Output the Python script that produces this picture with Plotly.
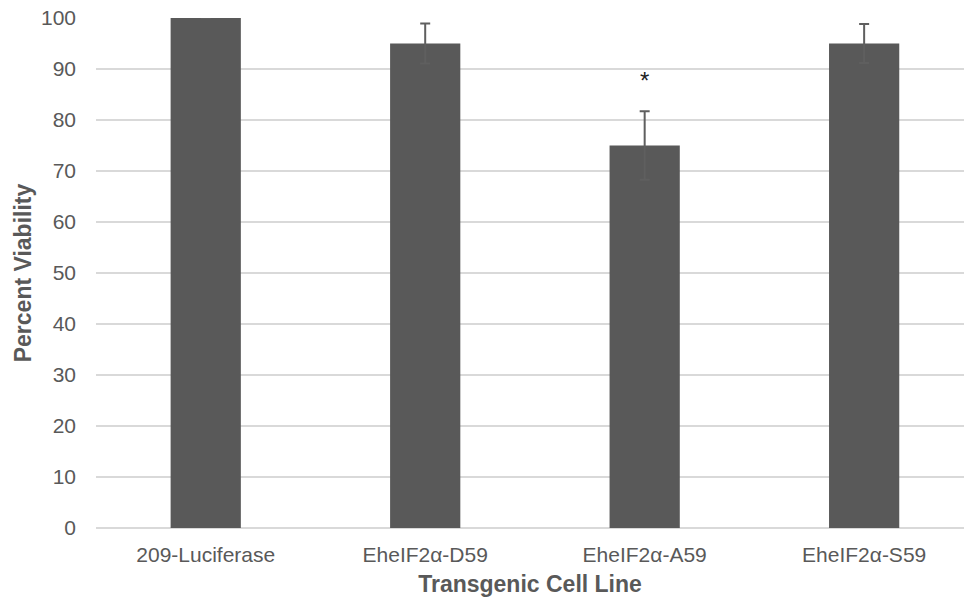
import plotly.graph_objects as go

categories = ["209-Luciferase", "EheIF2α-D59", "EheIF2α-A59", "EheIF2α-S59"]
viability = [100, 95, 75, 95]
errors = [0, 3.9, 6.7, 3.8]
sig_label = ["", "", "*", ""]
sig_y = [None, None, 87.8, None]

GRAY = "#595959"

fig = go.Figure()
fig.add_trace(go.Bar(
    x=categories, y=viability,
    marker=dict(color=GRAY, line=dict(width=0)),
    width=0.32,
    error_y=dict(type="data", array=errors, visible=True, color="#5f5f5f", thickness=2, width=5),
))

for c, lbl, yy in zip(categories, sig_label, sig_y):
    if lbl:
        fig.add_annotation(x=c, y=yy, text=lbl, showarrow=False,
                           font=dict(family="Liberation Sans, Arial", size=24, color="#222222"))

fig.update_layout(
    width=964, height=603,
    margin=dict(l=96, r=0, t=18, b=75),
    paper_bgcolor="white", plot_bgcolor="white",
    showlegend=False,
    font=dict(family="Liberation Sans, Arial", size=21, color=GRAY),
    xaxis=dict(
        range=[-0.5, 3.455],
        showgrid=False, showline=False, ticks="",
        ticklabelstandoff=12,
        tickfont=dict(size=21, color=GRAY),
        title=dict(text="<b>Transgenic Cell Line</b>", font=dict(size=23, color=GRAY), standoff=10),
    ),
    yaxis=dict(
        range=[0, 100], dtick=10,
        showgrid=True, gridcolor="#d9d9d9", gridwidth=2,
        zeroline=True, zerolinecolor="#d9d9d9", zerolinewidth=2,
        showline=False, ticks="", ticklen=0,
        ticklabelstandoff=19,
        tickfont=dict(size=21, color=GRAY),
        title=dict(text="<b>Percent Viability</b>", font=dict(size=23, color=GRAY), standoff=2),
    ),
)

fig.write_html("out.html")
